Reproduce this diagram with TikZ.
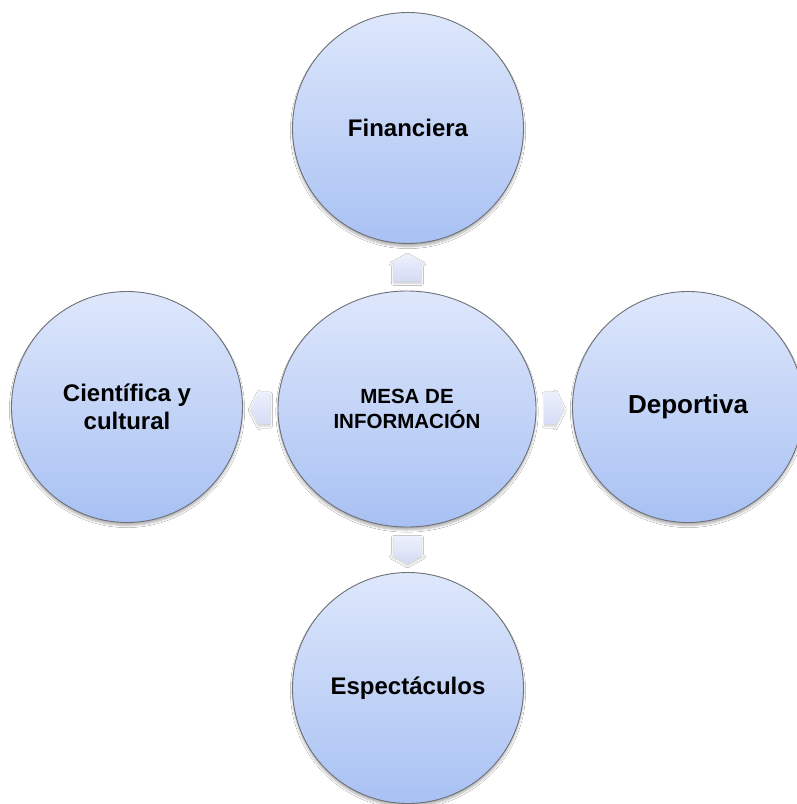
\documentclass[tikz,border=0pt]{standalone}
\usepackage{fontspec}
\setmainfont{Liberation Sans}
\usetikzlibrary{shapes.geometric,shadows.blur,calc}
\definecolor{circTop}{HTML}{DEE7FB}
\definecolor{circBot}{HTML}{A8C1F3}
\definecolor{circLine}{HTML}{6F7078}
\definecolor{arrA}{HTML}{EEF1FC}
\definecolor{arrB}{HTML}{D4DCF5}
\begin{document}
\begin{tikzpicture}[x=1pt,y=-1pt,
  bubble/.style={circle, draw=circLine, line width=0.9pt, top color=circTop, bottom color=circBot,
    inner sep=0pt, minimum size=231pt, align=center, font=\bfseries\fontsize{24}{28}\selectfont, text=black,
    blur shadow={shadow xshift=0pt, shadow yshift=-3pt, shadow opacity=30, shadow blur steps=6}},
  hub/.style={bubble, ellipse, minimum width=258pt, minimum height=236pt,
    font=\bfseries\fontsize{20.5}{25}\selectfont},
  blockarrow/.style={draw=none, top color=arrA, bottom color=arrB,
    blur shadow={shadow xshift=0pt, shadow yshift=-2pt, shadow opacity=20, shadow blur steps=5}}
]
\useasboundingbox (0,0) rectangle (797,804);
\fill[white] (0,0) rectangle (797,804);
\clip (0,0) rectangle (797,804);

\node[bubble] (fin) at (408,128) {Financiera};
\node[hub] (mesa) at (407,409) {MESA DE\\INFORMACIÓN};
\node[bubble] (cien) at (127,407) {Científica y\\cultural};
\node[bubble, font=\bfseries\fontsize{26}{30}\selectfont] (dep) at (688,407) {Deportiva};
\node[bubble] (esp) at (408,688) {Espectáculos};

\coordinate (cu) at ($(mesa.north)!0.5!(fin.south)$);
\coordinate (cd) at ($(mesa.south)!0.5!(esp.north)$);
\coordinate (cl) at ($(mesa.west)!0.5!(cien.east)$);
\coordinate (cr) at ($(mesa.east)!0.5!(dep.west)$);

% up
\path[blockarrow, shift={(cu)}]
  (-14,14) -- (-14,-5) -- (-16,-5) -- (0,-14) -- (16,-5) -- (14,-5) -- (14,14) -- cycle;
% down
\path[blockarrow, shift={(cd)}, rotate=180]
  (-14,14) -- (-14,-5) -- (-16,-5) -- (0,-14) -- (16,-5) -- (14,-5) -- (14,14) -- cycle;
% left
\path[blockarrow, shift={(cl)}, rotate=90]
  (-16,10) -- (-16,-1) -- (-18,-1) -- (0,-10) -- (18,-1) -- (16,-1) -- (16,10) -- cycle;
% right
\path[blockarrow, shift={(cr)}, rotate=-90]
  (-16,10) -- (-16,-1) -- (-18,-1) -- (0,-10) -- (18,-1) -- (16,-1) -- (16,10) -- cycle;
\end{tikzpicture}
\end{document}
